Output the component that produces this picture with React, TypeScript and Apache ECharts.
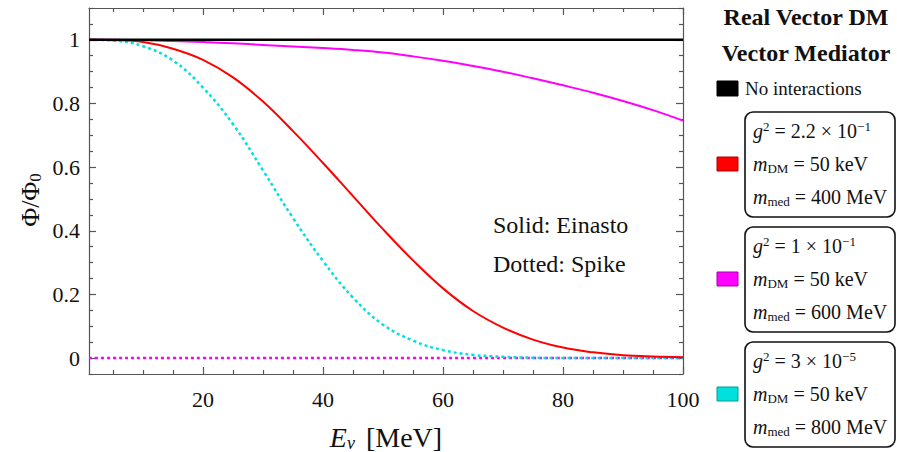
import React, { useEffect, useRef } from "react";
import * as echarts from "echarts";

// ---- data ----
const energies = [1, 5, 10, 15, 20, 25, 30, 35, 40, 45, 50, 55, 60, 65, 70, 75, 80, 85, 90, 95, 100];
const noInteraction = [1, 1, 1, 1, 1, 1, 1, 1, 1, 1, 1, 1, 1, 1, 1, 1, 1, 1, 1, 1, 1];
const redEinasto = [1.0, 0.999, 0.993, 0.972, 0.937, 0.882, 0.806, 0.713, 0.613, 0.509, 0.405, 0.307, 0.219, 0.148, 0.096, 0.058, 0.033, 0.018, 0.009, 0.005, 0.003];
const magentaEinasto = [1.0, 1.0, 0.999, 0.996, 0.993, 0.989, 0.984, 0.979, 0.974, 0.968, 0.96, 0.948, 0.934, 0.918, 0.9, 0.879, 0.857, 0.834, 0.808, 0.779, 0.746];
const cyanSpike = [1.0, 0.998, 0.98, 0.935, 0.85, 0.735, 0.59, 0.44, 0.305, 0.19, 0.105, 0.055, 0.025, 0.01, 0.004, 0.001, 0, 0, 0, 0, 0];
const zeroSpike = [0, 0, 0, 0, 0, 0, 0, 0, 0, 0, 0, 0, 0, 0, 0, 0, 0, 0, 0, 0, 0];

const xMajorTicks = [20, 40, 60, 80, 100];
const xMinorTicks = [5, 10, 15, 25, 30, 35, 45, 50, 55, 65, 70, 75, 85, 90, 95];
const yMajorTicks = [0, 0.2, 0.4, 0.6, 0.8, 1];
const yMinorTicks = [-0.05, 0.05, 0.1, 0.15, 0.25, 0.3, 0.35, 0.45, 0.5, 0.55, 0.65, 0.7, 0.75, 0.85, 0.9, 0.95, 1.05, 1.1];

const legendEntries = [
  { color: "#ff0000", border: "#aa0000", g: "2.2 × 10", exp: "−1", mMed: "400" },
  { color: "#ff00ff", border: "#aa00aa", g: "1 × 10", exp: "−1", mMed: "600" },
  { color: "#00e0dc", border: "#009a98", g: "3 × 10", exp: "−5", mMed: "800" },
];

const FONT = '"Liberation Serif", "DejaVu Serif", serif';
const AXIS_COLOR = "#555555";

const pairs = (ys: number[]) => energies.map((e, i) => [e, ys[i]]);

function makeAxes(kind: "x" | "y") {
  const isX = kind === "x";
  const base: any = {
    type: "value",
    min: isX ? 1 : -0.05,
    max: isX ? 100 : 1.1,
    splitLine: { show: false },
  };
  const major = isX ? xMajorTicks : yMajorTicks;
  const minor = isX ? xMinorTicks : yMinorTicks;
  const positions = isX ? ["bottom", "top"] : ["left", "right"];
  const axes: any[] = [];
  positions.forEach((pos, pi) => {
    axes.push({
      ...base,
      position: pos,
      axisLine: { show: true, onZero: false, lineStyle: { color: AXIS_COLOR, width: 1.2 } },
      axisTick: { show: true, inside: true, length: 7, customValues: major, lineStyle: { color: AXIS_COLOR, width: 1.2 } },
      axisLabel: pi === 0
        ? {
            show: true,
            customValues: major,
            color: "#111",
            fontFamily: FONT,
            fontSize: 22,
            margin: isX ? 14 : 9,
            formatter: (v: number) => String(Math.round(v * 10) / 10),
          }
        : { show: false },
    });
    axes.push({
      ...base,
      position: pos,
      axisLine: { show: false, onZero: false },
      axisTick: { show: true, inside: true, length: 4, customValues: minor, lineStyle: { color: AXIS_COLOR, width: 1.2 } },
      axisLabel: { show: false },
    });
  });
  return axes;
}

export default function App() {
  const ref = useRef<HTMLDivElement>(null);
  useEffect(() => {
    if (!ref.current) return;
    const chart = echarts.init(ref.current, null, { renderer: "svg" });

    const lineBase = { type: "line", showSymbol: false, smooth: 0.4, xAxisIndex: 0, yAxisIndex: 0, silent: true };

    const graphics: any[] = [
      {
        type: "text",
        x: 30,
        y: 200,
        rotation: Math.PI / 2,
        style: {
          text: "Φ/Φ{sub|0}",
          fontFamily: FONT,
          fontSize: 26,
          fill: "#111",
          align: "center",
          verticalAlign: "middle",
          rich: { sub: { fontSize: 17, fontFamily: FONT, fill: "#111", padding: [10, 0, 0, 0] } },
        },
      },
      {
        type: "text",
        x: 386,
        y: 437,
        style: {
          text: "{i|E}{sub|ν} [MeV]",
          fontFamily: FONT,
          fontSize: 28,
          fill: "#111",
          align: "center",
          verticalAlign: "middle",
          rich: {
            i: { fontStyle: "italic", fontSize: 28, fontFamily: FONT, fill: "#111" },
            sub: { fontStyle: "italic", fontSize: 18, fontFamily: FONT, fill: "#111", padding: [12, 4, 0, 0] },
          },
        },
      },
      { type: "text", x: 493, y: 225, style: { text: "Solid: Einasto", fontFamily: FONT, fontSize: 24, fill: "#111", verticalAlign: "middle" } },
      { type: "text", x: 493, y: 264, style: { text: "Dotted: Spike", fontFamily: FONT, fontSize: 24, fill: "#111", verticalAlign: "middle" } },
      { type: "text", x: 806, y: 17, style: { text: "Real Vector DM", fontFamily: FONT, fontSize: 24, fontWeight: "bold", fill: "#111", align: "center", verticalAlign: "middle" } },
      { type: "text", x: 806, y: 53, style: { text: "Vector Mediator", fontFamily: FONT, fontSize: 24, fontWeight: "bold", fill: "#111", align: "center", verticalAlign: "middle" } },
      { type: "rect", shape: { x: 717, y: 81, width: 21, height: 15 }, style: { fill: "#000", stroke: "#000" } },
      { type: "text", x: 745, y: 88, style: { text: "No interactions", fontFamily: FONT, fontSize: 19, fill: "#111", verticalAlign: "middle" } },
    ];

    legendEntries.forEach((en, i) => {
      const top = 112 + i * 115;
      graphics.push({
        type: "rect",
        shape: { x: 745, y: top, width: 150, height: 105, r: 8 },
        style: { fill: "none", stroke: "#111", lineWidth: 1.6 },
      });
      graphics.push({
        type: "rect",
        shape: { x: 717, y: top + 45, width: 21, height: 14 },
        style: { fill: en.color, stroke: en.border, lineWidth: 1 },
      });
      const rich = {
        i: { fontStyle: "italic", fontSize: 20, fontFamily: FONT, fill: "#111" },
        sup: { fontSize: 13, fontFamily: FONT, fill: "#111", padding: [0, 0, 10, 0] },
        sub: { fontSize: 13, fontFamily: FONT, fill: "#111", padding: [8, 0, 0, 0] },
        r: { fontSize: 20, fontFamily: FONT, fill: "#111" },
      };
      const lines = [
        `{i|g}{sup|2}{r| = ${en.g}}{sup|${en.exp}}`,
        `{i|m}{sub|DM}{r| = 50 keV}`,
        `{i|m}{sub|med}{r| = ${en.mMed} MeV}`,
      ];
      lines.forEach((t, j) => {
        graphics.push({
          type: "text",
          x: 753,
          y: top + 19 + j * 33,
          style: { text: t, fontFamily: FONT, fontSize: 20, fill: "#111", verticalAlign: "middle", rich },
        });
      });
    });

    chart.setOption({
      animation: false,
      backgroundColor: "#ffffff",
      grid: { left: 89, top: 8, width: 594, height: 366, containLabel: false },
      xAxis: makeAxes("x"),
      yAxis: makeAxes("y"),
      series: [
        { ...lineBase, name: "Spike zero", data: pairs(zeroSpike), lineStyle: { color: "#ff00ff", width: 2.5, type: [3, 3] } },
        { ...lineBase, name: "Cyan spike", data: pairs(cyanSpike), lineStyle: { color: "#00e0e0", width: 2.5, type: [3, 3] } },
        { ...lineBase, name: "Magenta Einasto", data: pairs(magentaEinasto), lineStyle: { color: "#ff00ff", width: 2 } },
        { ...lineBase, name: "Red Einasto", data: pairs(redEinasto), lineStyle: { color: "#ff0000", width: 2 } },
        { ...lineBase, name: "No interactions", data: pairs(noInteraction), lineStyle: { color: "#000000", width: 2.5 } },
      ],
      graphic: graphics,
    });
    return () => chart.dispose();
  }, []);
  return <div ref={ref} style={{ position: "absolute", left: 0, top: 0, width: 897, height: 452 }} />;
}
